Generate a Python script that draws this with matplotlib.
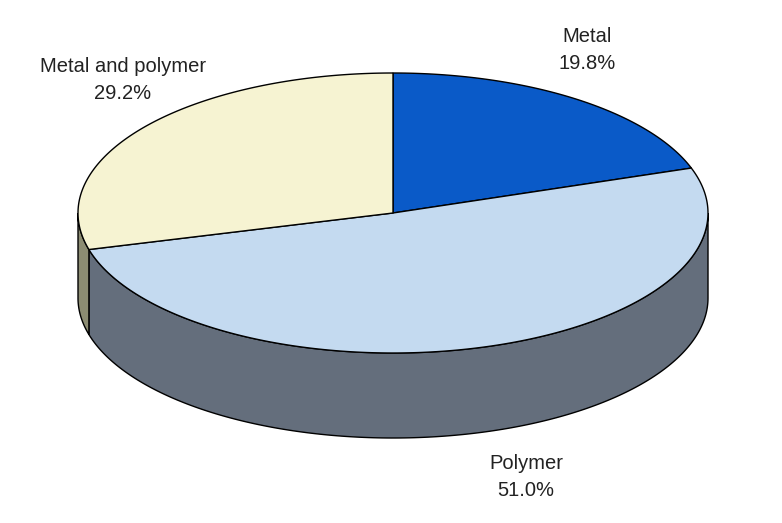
import numpy as np
import matplotlib
matplotlib.use("Agg")
from matplotlib import pyplot as plt
from matplotlib.patches import Polygon

#data
labels = ["Metal", "Polymer", "Metal and polymer"]
shares = [19.8, 51.0, 29.2]
topColors = ["#0a5ac8", "#c4daf0", "#f6f3d2"]
sideColors = ["#0a3f8c", "#646e7c", "#8c8c72"]
labelPos = [(587, 50), (526, 477), (123, 80)]

#geometry of the tilted pie (pixels)
cx, cy = 393, 213
a, b = 315, 140
depth = 85

def arc(t1, t2, n=200, dy=0):
    t = np.radians(np.linspace(t1, t2, n))
    return np.column_stack([cx + a*np.cos(t), cy - b*np.sin(t) + dy])

fig = plt.figure(figsize=(7.82, 5.23), dpi=100)
ax = fig.add_axes([0, 0, 1, 1])
ax.set_xlim(0, 782)
ax.set_ylim(523, 0)
ax.axis("off")

#slice angles, clockwise from the top
starts = []
ends = []
cur = 90.0
for s in shares:
    starts.append(cur)
    cur -= s/100*360
    ends.append(cur)

#front side walls
for i in range(len(shares)):
    lo, hi = ends[i], starts[i]
    for off in (0, -360):
        l = max(lo, -180 + off + 0)
        h = min(hi, 0 + off)
        if l < h:
            top = arc(h, l)
            bot = arc(l, h, dy=depth)
            ax.add_patch(Polygon(np.vstack([top, bot]), closed=True,
                                 facecolor=sideColors[i], edgecolor="black", lw=1.0))

#top slices
for i in range(len(shares)):
    pts = np.vstack([[cx, cy], arc(starts[i], ends[i])])
    ax.add_patch(Polygon(pts, closed=True, facecolor=topColors[i],
                         edgecolor="black", lw=1.0))

#labels
for i, lab in enumerate(labels):
    x, y = labelPos[i]
    ax.text(x, y, f"{lab}\n{shares[i]:.1f}%", ha="center", va="center",
            fontsize=14.5, family="Liberation Sans", color="#222222",
            linespacing=1.55)

fig.savefig("out.png", dpi=100)
